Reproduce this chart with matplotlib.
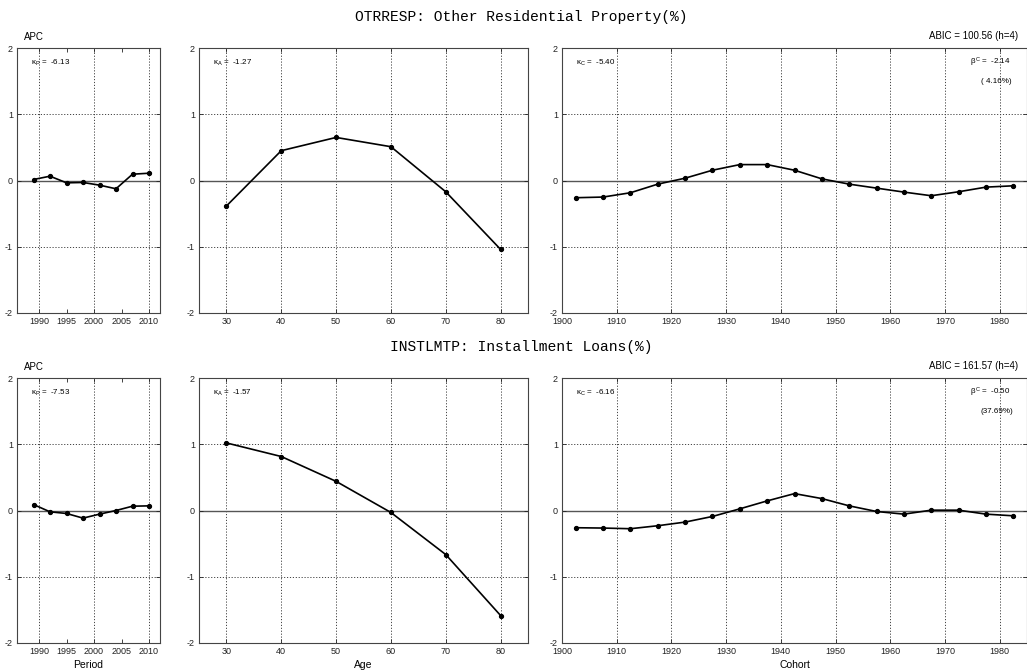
import matplotlib
matplotlib.use("Agg")
import matplotlib.pyplot as plt
from matplotlib import font_manager

# ---- data -------------------------------------------------------------
period = [1989, 1992, 1995, 1998, 2001, 2004, 2007, 2010]
age = [30, 40, 50, 60, 70, 80]
cohort = [1902.5, 1907.5, 1912.5, 1917.5, 1922.5, 1927.5, 1932.5, 1937.5, 1942.5,
          1947.5, 1952.5, 1957.5, 1962.5, 1967.5, 1972.5, 1977.5, 1982.5]

otr_period = [0.015, 0.065, -0.035, -0.03, -0.07, -0.125, 0.095, 0.11]
otr_age = [-0.385, 0.45, 0.65, 0.51, -0.17, -1.04]
otr_cohort = [-0.26, -0.25, -0.185, -0.055, 0.035, 0.155, 0.24, 0.24, 0.155,
              0.025, -0.055, -0.115, -0.175, -0.23, -0.17, -0.10, -0.08]

inst_period = [0.09, -0.02, -0.045, -0.115, -0.055, 0.0, 0.065, 0.07]
inst_age = [1.02, 0.815, 0.44, -0.03, -0.665, -1.585]
inst_cohort = [-0.26, -0.265, -0.275, -0.23, -0.175, -0.09, 0.025, 0.145, 0.255,
               0.18, 0.07, -0.015, -0.055, 0.005, 0.005, -0.055, -0.08]

titles = ["OTRRESP: Other Residential Property(%)", "INSTLMTP: Installment Loans(%)"]
kappa_p = ["-6.13", "-7.53"]
kappa_a = ["-1.27", "-1.57"]
kappa_c = ["-5.40", "-6.16"]
beta_c = ["-2.14", "-0.50"]
beta_pct = ["( 4.16%)", "(37.69%)"]
abic = ["ABIC = 100.56 (h=4)", "ABIC = 161.57 (h=4)"]

period_ticks = [1990, 1995, 2000, 2005, 2010]
period_grid = [1990, 2000, 2010]
age_ticks = [30, 40, 50, 60, 70, 80]
cohort_ticks = [1900, 1910, 1920, 1930, 1940, 1950, 1960, 1970, 1980]
y_ticks = [-2, -1, 0, 1, 2]

# ---- fonts ------------------------------------------------------------
installed = {f.name for f in font_manager.fontManager.ttflist}
narrow = "Liberation Sans Narrow" if "Liberation Sans Narrow" in installed else "Liberation Sans"
plt.rcParams["font.family"] = [narrow, "DejaVu Sans"]
plt.rcParams["mathtext.fontset"] = "custom"
plt.rcParams["mathtext.rm"] = narrow
plt.rcParams["mathtext.it"] = narrow
title_font = ["Liberation Mono", "DejaVu Sans Mono"]

W, H = 1027, 672
fig = plt.figure(figsize=(W / 100, H / 100), dpi=100)


def frac(left, right, top, bottom):
    return [left / W, 1 - bottom / H, (right - left) / W, (bottom - top) / H]


def style(ax, xlim, xticks, vgrid):
    ax.set_xlim(*xlim)
    ax.set_ylim(-2, 2)
    ax.set_xticks(xticks)
    ax.set_yticks(y_ticks)
    ax.set_xticklabels([str(t) for t in xticks])
    ax.set_yticklabels([str(t) for t in y_ticks])
    ax.tick_params(direction="in", length=3, width=0.6, top=True, right=True,
                   labelsize=6.5, pad=3, colors="#222222")
    for s in ax.spines.values():
        s.set_linewidth(0.8)
        s.set_color("#444444")
    for g in vgrid:
        ax.axvline(g, color="#444444", lw=0.7, ls=(0, (1.2, 1.8)), zorder=1)
    for g in (-1, 1):
        ax.axhline(g, color="#444444", lw=0.7, ls=(0, (1.2, 1.8)), zorder=1)
    ax.axhline(0, color="#555555", lw=1.0, zorder=1)


rows = [
    (48, 313, otr_period, otr_age, otr_cohort),
    (378, 643, inst_period, inst_age, inst_cohort),
]

for i, (top, bottom, pv, av, cv) in enumerate(rows):
    ax_p = fig.add_axes(frac(17, 160, top, bottom))
    ax_a = fig.add_axes(frac(199, 528, top, bottom))
    ax_c = fig.add_axes(frac(562, 1027, top, bottom))

    style(ax_p, (1986, 2012), period_ticks, period_grid)
    style(ax_a, (25, 85), age_ticks, age_ticks)
    style(ax_c, (1900, 1985), cohort_ticks, cohort_ticks[1:])

    for ax, x, y in ((ax_p, period, pv), (ax_a, age, av), (ax_c, cohort, cv)):
        ax.plot(x, y, color="black", lw=1.2, marker="o", ms=2.8, zorder=3)

    ax_p.text(0.10, 0.945, r"$\kappa_P$ =  " + kappa_p[i], transform=ax_p.transAxes,
              fontsize=5.8, va="center", ha="left")
    ax_a.text(0.042, 0.945, r"$\kappa_A$ =  " + kappa_a[i], transform=ax_a.transAxes,
              fontsize=5.8, va="center", ha="left")
    ax_c.text(0.03, 0.945, r"$\kappa_C$ =  " + kappa_c[i], transform=ax_c.transAxes,
              fontsize=5.8, va="center", ha="left")
    ax_c.text(0.965, 0.945, r"$\beta^C$ =  " + beta_c[i], transform=ax_c.transAxes,
              fontsize=5.8, va="center", ha="right")
    ax_c.text(0.935, 0.872, beta_pct[i], transform=ax_c.transAxes,
              fontsize=5.8, va="center", ha="center")

    fig.text(24 / W, 1 - (top - 11) / H, "APC", fontsize=7, ha="left", va="center")
    fig.text(1018 / W, 1 - (top - 12) / H, abic[i], fontsize=7, ha="right", va="center")
    fig.text(521 / W, 1 - (top - 31) / H, titles[i], fontsize=10.5, ha="center",
             va="center", family=title_font)

    if i == 1:
        ax_p.set_xlabel("Period", fontsize=7.5, labelpad=3)
        ax_a.set_xlabel("Age", fontsize=7.5, labelpad=3)
        ax_c.set_xlabel("Cohort", fontsize=7.5, labelpad=3)

fig.savefig("out.png", dpi=100, facecolor="white")
